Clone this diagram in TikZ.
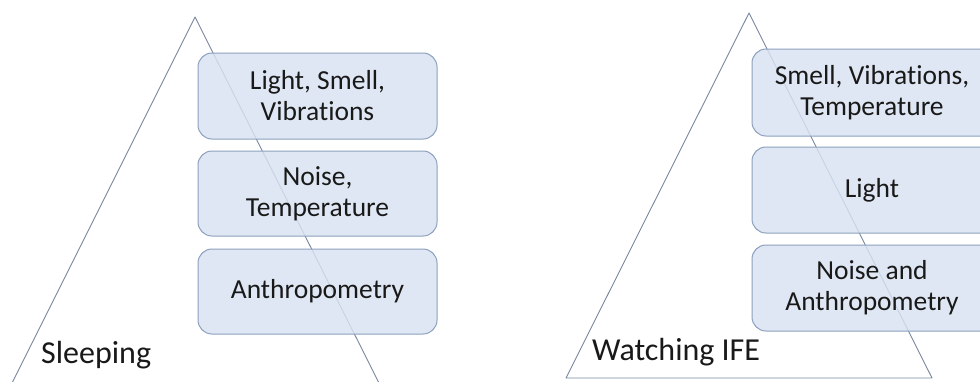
\documentclass[tikz,border=0pt]{standalone}
\usepackage{fontspec}
\setmainfont{Carlito}[Ligatures=CommonOff]
\definecolor{boxfill}{RGB}{216,226,241}
\definecolor{boxline}{RGB}{140,160,190}
\definecolor{triline}{RGB}{120,135,160}
\definecolor{txt}{RGB}{25,25,25}
\tikzset{
  tri/.style={draw=triline, line width=0.9pt, line join=round},
  layer/.style={draw=boxline, fill=boxfill, fill opacity=0.82, text opacity=1,
    line width=1pt, rounded corners=14pt, text=txt, align=center,
    font=\fontsize{27.5}{31}\selectfont, inner sep=0pt},
  label/.style={align=center, text=txt, font=\fontsize{27.5}{31}\selectfont, inner sep=0pt},
  caption/.style={text=txt, font=\fontsize{32}{36}\selectfont, anchor=west, inner sep=0pt}
}
\begin{document}
\begin{tikzpicture}[x=1pt,y=-1pt]
\useasboundingbox (0,0) rectangle (980,381);
\begin{scope}
\clip (0,0) rectangle (980,381);
% left pyramid (base runs below the frame)
\coordinate (la) at (195,17);
\coordinate (lb) at (12,383);
\coordinate (lc) at (379,383);
\draw[tri] (lb) -- (la) -- (lc);
% right pyramid
\coordinate (ra) at (749,13);
\coordinate (rb) at (566,378);
\coordinate (rc) at (932,378);
\draw[tri] (rb) -- (ra) -- (rc) -- cycle;
% left layers
\node[layer, minimum width=239pt, minimum height=86pt] (s1) at (317.5,96) {Light, Smell,\\Vibrations};
\node[layer, minimum width=239pt, minimum height=85pt] (s2) at (317.5,193.5) {Noise,\\Temperature};
\node[layer, minimum width=239pt, minimum height=85pt] (s3) at (317.5,291.5) {Anthropometry};
% right layers (run past the right edge)
\node[layer, minimum width=250pt, minimum height=87pt] (w1) at (877,92.5) {};
\node[layer, minimum width=250pt, minimum height=86pt] (w2) at (877,190) {};
\node[layer, minimum width=250pt, minimum height=86pt] (w3) at (877,288) {};
\node[label] (t1) at (872,92.5) {Smell, Vibrations,\\Temperature};
\node[label] (t2) at (872,190) {Light};
\node[label] (t3) at (872,288) {Noise and\\Anthropometry};
% captions
\node[caption] (cap1) at (41,355) {Sleeping};
\node[caption] (cap2) at (592,352) {Watching IFE};
\end{scope}
\end{tikzpicture}
\end{document}
